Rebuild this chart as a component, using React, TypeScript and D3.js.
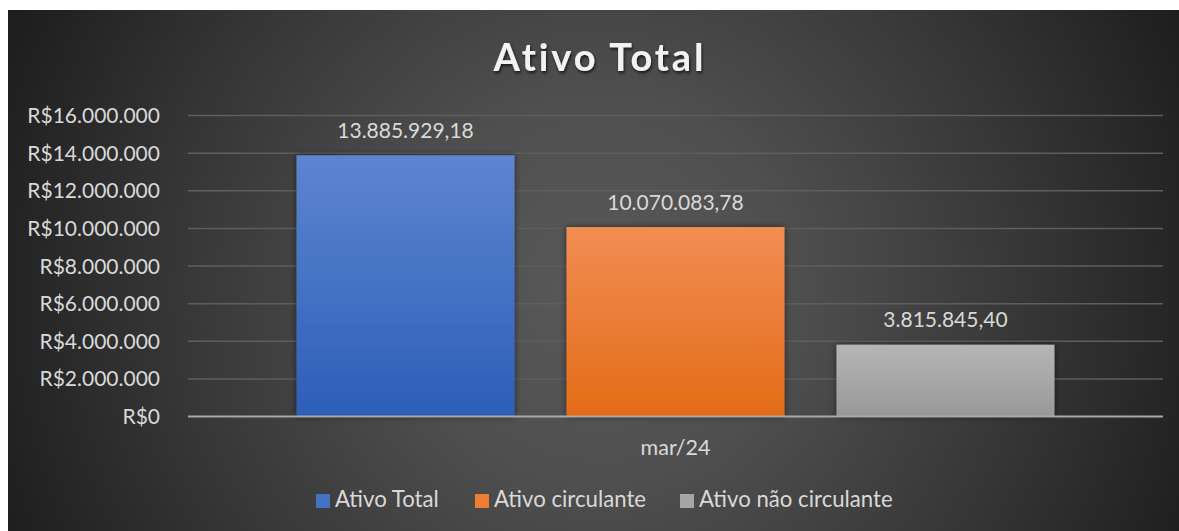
import React from "react";
import * as d3 from "d3";

const categories = ["mar/24"];
const seriesNames = ["Ativo Total", "Ativo circulante", "Ativo não circulante"];
const seriesValues = [13885929.18, 10070083.78, 3815845.4];
const yTicks = [0, 2000000, 4000000, 6000000, 8000000, 10000000, 12000000, 14000000, 16000000];
const chartTitle = "Ativo Total";

const seriesGradients = [
  ["#5d85d0", "#2d5eb8"],
  ["#f28d53", "#e36c18"],
  ["#b6b6b6", "#989898"],
];
const legendColors = ["#4472c4", "#ed7d31", "#a5a5a5"];

const ptBR = d3.formatLocale({
  decimal: ",",
  thousands: ".",
  grouping: [3],
  currency: ["R$", ""],
});
const fmtTick = ptBR.format("$,.0f");
const fmtValue = ptBR.format(",.2f");

const FONT = "Lato, 'Open Sans', sans-serif";
const TEXT = "#d9d9d9";

export default function App() {
  const W = 1179;
  const H = 531;
  const plotLeft = 188;
  const plotRight = 1163;
  const plotTop = 115.5;
  const plotBottom = 416.5;

  const y = d3.scaleLinear().domain([0, 16000000]).range([plotBottom, plotTop]);
  const x0 = d3.scaleBand<string>().domain(categories).range([plotLeft, plotRight]).padding(0);
  const x1 = d3
    .scaleBand<string>()
    .domain(seriesNames)
    .range([0, x0.bandwidth()])
    .paddingInner(0.1926)
    .paddingOuter(0.402);

  const legendItems = [
    { name: seriesNames[0], x: 316 },
    { name: seriesNames[1], x: 475 },
    { name: seriesNames[2], x: 680 },
  ];

  return (
    <>
      <style>{`html{overflow:hidden}`}</style>
      <svg
        width={W}
        height={H}
        style={{ display: "block", position: "absolute", left: 0, top: 0, maxWidth: "none" }}
      >
        <defs>
          <radialGradient id="bg" gradientUnits="userSpaceOnUse" cx={600} cy={290} r={640}>
            <stop offset="0" stopColor="#595959" />
            <stop offset="0.3" stopColor="#4f4f4f" />
            <stop offset="0.7" stopColor="#343434" />
            <stop offset="1" stopColor="#1e1e1e" />
          </radialGradient>
          {seriesGradients.map((g, i) => (
            <linearGradient key={i} id={`bar${i}`} x1="0" y1="0" x2="0" y2="1">
              <stop offset="0" stopColor={g[0]} />
              <stop offset="1" stopColor={g[1]} />
            </linearGradient>
          ))}
          <filter id="barShadow" x="-10%" y="-10%" width="120%" height="120%">
            <feDropShadow dx="0" dy="0" stdDeviation="3" floodColor="#000" floodOpacity="0.55" />
          </filter>
          <filter id="titleShadow" x="-10%" y="-30%" width="120%" height="160%">
            <feDropShadow dx="1" dy="2" stdDeviation="1.5" floodColor="#000" floodOpacity="0.7" />
          </filter>
        </defs>
        <rect x={0} y={0} width={W} height={H} fill="#ffffff" />
        <rect x={8} y={10} width={1190} height={530} fill="url(#bg)" />

        {/* title */}
        <text
          x={600}
          y={70.5}
          textAnchor="middle"
          fontFamily={FONT}
          fontWeight={700}
          fontSize={38}
          letterSpacing={2.9}
          fill="#f2f2f2"
          filter="url(#titleShadow)"
        >
          {chartTitle}
        </text>

        {/* gridlines */}
        {yTicks.map((t) =>
          t === 0 ? null : (
            <line
              key={t}
              x1={plotLeft}
              x2={plotRight}
              y1={y(t)}
              y2={y(t)}
              stroke="#5e5e5e"
              strokeWidth={1.5}
            />
          )
        )}

        {/* y tick labels */}
        {yTicks.map((t) => (
          <text
            key={t}
            x={160}
            y={y(t)}
            dy="0.36em"
            textAnchor="end"
            fontFamily={FONT}
            fontSize={21}
            fill={TEXT}
          >
            {fmtTick(t)}
          </text>
        ))}

        {/* bars */}
        {categories.map((c) => (
          <g key={c} transform={`translate(${x0(c)},0)`}>
            {seriesNames.map((s, i) => {
              const bx = x1(s) as number;
              const by = y(seriesValues[i]);
              return (
                <g key={s}>
                  <rect
                    x={bx}
                    y={by}
                    width={x1.bandwidth()}
                    height={y(0) - by}
                    fill={`url(#bar${i})`}
                    filter="url(#barShadow)"
                  />
                  <text
                    x={bx + x1.bandwidth() / 2}
                    y={by - 17.5}
                    textAnchor="middle"
                    fontFamily={FONT}
                    fontSize={21}
                    fill={TEXT}
                  >
                    {fmtValue(seriesValues[i])}
                  </text>
                </g>
              );
            })}
          </g>
        ))}

        {/* x axis line */}
        <line
          x1={plotLeft}
          x2={plotRight}
          y1={y(0)}
          y2={y(0)}
          stroke="#a8a8a8"
          strokeWidth={2}
        />

        {/* category labels */}
        {categories.map((c) => (
          <text
            key={c}
            x={(x0(c) as number) + x0.bandwidth() / 2}
            y={455}
            textAnchor="middle"
            fontFamily={FONT}
            fontSize={21.5}
            fill={TEXT}
          >
            {c}
          </text>
        ))}

        {/* legend */}
        {legendItems.map((it, i) => (
          <g key={it.name}>
            <rect x={it.x} y={494} width={14} height={14} fill={legendColors[i]} />
            <text x={it.x + 19} y={507} fontFamily={FONT} fontSize={22.2} fill={TEXT}>
              {it.name}
            </text>
          </g>
        ))}
      </svg>
    </>
  );
}
